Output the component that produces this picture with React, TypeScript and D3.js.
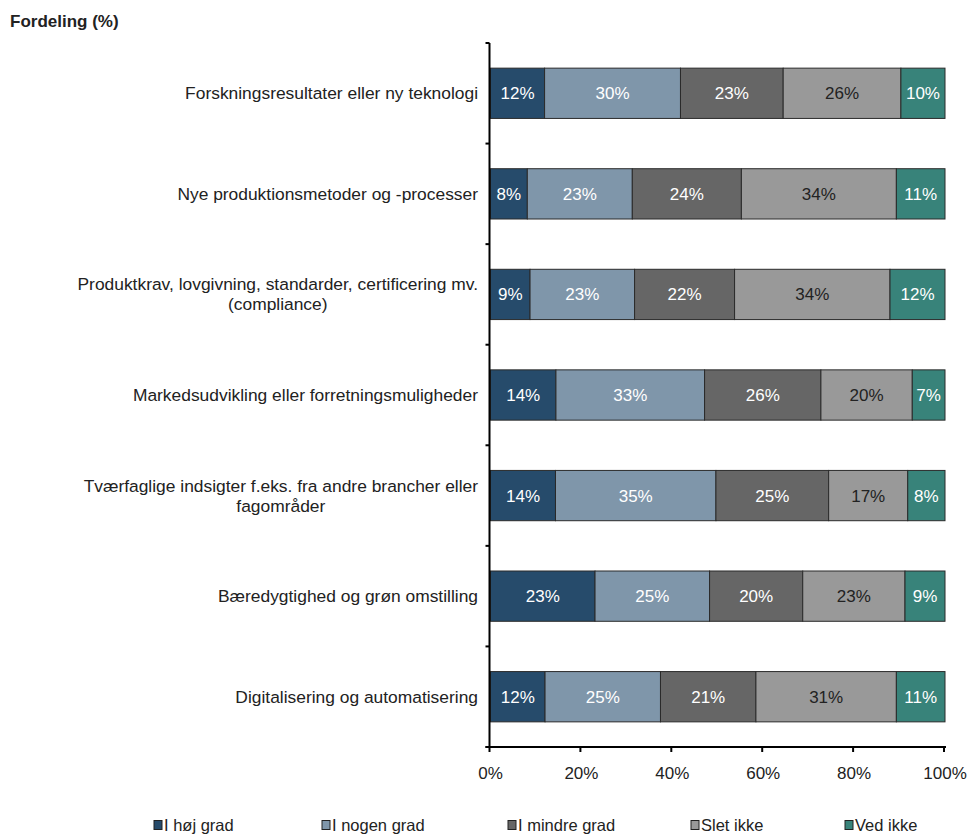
import React from "react";
import * as d3 from "d3";

const categories: string[][] = [
  ["Forskningsresultater eller ny teknologi"],
  ["Nye produktionsmetoder og -processer"],
  ["Produktkrav, lovgivning, standarder, certificering mv.", "(compliance)"],
  ["Markedsudvikling eller forretningsmuligheder"],
  ["Tværfaglige indsigter f.eks. fra andre brancher eller", "fagområder"],
  ["Bæredygtighed og grøn omstilling"],
  ["Digitalisering og automatisering"],
];
const seriesNames = ["I høj grad", "I nogen grad", "I mindre grad", "Slet ikke", "Ved ikke"];
const hojGrad = [11.9, 8.1, 8.7, 14.4, 14.3, 23.0, 12.0];
const nogenGrad = [29.9, 23.1, 23.0, 32.7, 35.3, 25.2, 25.4];
const mindreGrad = [22.6, 24.0, 22.0, 25.6, 24.8, 20.5, 21.0];
const sletIkke = [25.9, 34.1, 34.2, 20.1, 17.4, 22.5, 30.9];
const vedIkke = [9.7, 10.7, 12.1, 7.2, 8.2, 8.8, 10.7];
const labels = [
  ["12%", "8%", "9%", "14%", "14%", "23%", "12%"],
  ["30%", "23%", "23%", "33%", "35%", "25%", "25%"],
  ["23%", "24%", "22%", "26%", "25%", "20%", "21%"],
  ["26%", "34%", "34%", "20%", "17%", "23%", "31%"],
  ["10%", "11%", "12%", "7%", "8%", "9%", "11%"],
];
const xTicks = [0, 20, 40, 60, 80, 100];
const colors = ["#264B6B", "#7F96AA", "#666666", "#999999", "#38837A"];
const textColors = ["#ffffff", "#ffffff", "#ffffff", "#222222", "#ffffff"];
const legendX = [154, 322, 508, 691, 845];

const FONT = "'Liberation Sans', Arial, sans-serif";
const CAT_FS = 17.4;

function measure(text: string, size: number): number {
  if (typeof document === "undefined") return text.length * size * 0.5;
  const c = document.createElement("canvas").getContext("2d");
  if (!c) return text.length * size * 0.5;
  c.font = `${size}px ${FONT}`;
  return c.measureText(text).width;
}

export default function App() {
  const W = 970, H = 837;
  const left = 490.5, right = 945, top = 43, bottom = 747;
  const x = d3.scaleLinear().domain([0, 100]).range([left, right]);
  const y = d3.scaleBand<number>().domain(d3.range(categories.length)).range([top, bottom]).paddingInner(0.5).paddingOuter(0.25);
  const yOuter = d3.scaleBand<number>().domain(d3.range(categories.length)).range([top, bottom]);
  const series = [hojGrad, nogenGrad, mindreGrad, sletIkke, vedIkke];
  const fs = 17;

  return (
    <svg width={W} height={H} style={{ position: "absolute", left: 0, top: 0, background: "#fff" }} fontFamily={FONT}>
      <text x={10} y={27} fontSize={17} fontWeight="bold" fill="#222">Fordeling (%)</text>
      {categories.map((lines, i) => {
        const yc = (y(i) as number) + y.bandwidth() / 2;
        let acc = 0;
        const w0 = lines.length > 1 ? measure(lines[0], CAT_FS) : 0;
        return (
          <g key={i}>
            {lines.length === 1 ? (
              <text x={478} y={yc + 6} fontSize={CAT_FS} textAnchor="end" fill="#222">{lines[0]}</text>
            ) : (
              <>
                <text x={478 - w0 / 2} y={yc - 4} fontSize={CAT_FS} textAnchor="middle" fill="#222">{lines[0]}</text>
                <text x={478 - w0 / 2} y={yc + 16} fontSize={CAT_FS} textAnchor="middle" fill="#222">{lines[1]}</text>
              </>
            )}
            {series.map((s, k) => {
              const x0 = x(acc);
              acc += s[i];
              const x1 = x(acc);
              return (
                <g key={k}>
                  <rect x={x0} y={y(i)} width={x1 - x0} height={y.bandwidth()} fill={colors[k]} stroke="#2a2a2a" strokeWidth={1} />
                  <text x={(x0 + x1) / 2} y={yc + 6} fontSize={fs} textAnchor="middle" fill={textColors[k]}>{labels[k][i]}</text>
                </g>
              );
            })}
          </g>
        );
      })}
      <line x1={left - 1} x2={left - 1} y1={top} y2={bottom} stroke="#000" strokeWidth={2} />
      {d3.range(categories.length + 1).map((i) => {
        const yy = i < categories.length ? (yOuter(i) as number) : bottom;
        return <line key={i} x1={left - 5} x2={left - 1} y1={yy} y2={yy} stroke="#000" strokeWidth={2} />;
      })}
      <line x1={left - 5} x2={right + 1} y1={bottom} y2={bottom} stroke="#000" strokeWidth={2} />
      {xTicks.map((t) => (
        <g key={t}>
          <line x1={x(t) - 1} x2={x(t) - 1} y1={bottom} y2={bottom + 5} stroke="#000" strokeWidth={2} />
          <text x={x(t)} y={bottom + 32} fontSize={fs} textAnchor="middle" fill="#222">{t}%</text>
        </g>
      ))}
      {seriesNames.map((n, k) => (
        <g key={n}>
          <rect x={legendX[k]} y={820.5} width={8} height={9} fill={colors[k]} stroke="#222" strokeWidth={1} />
          <text x={legendX[k] + 10} y={831} fontSize={16.5} fill="#222">{n}</text>
        </g>
      ))}
    </svg>
  );
}
